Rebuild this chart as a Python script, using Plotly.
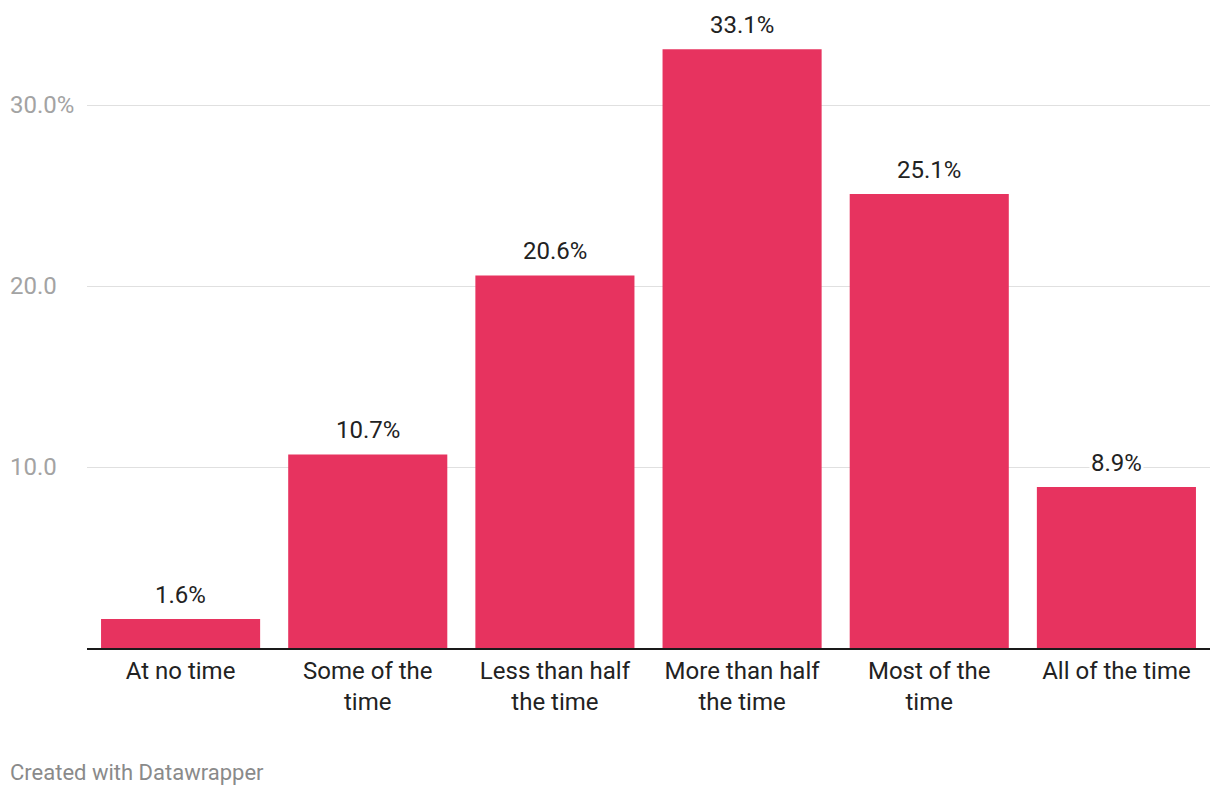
import plotly.graph_objects as go

categories = ["At no time", "Some of the<br>time", "Less than half<br>the time",
              "More than half<br>the time", "Most of the<br>time", "All of the time"]
values = [1.6, 10.7, 20.6, 33.1, 25.1, 8.9]
tick_vals = [10, 20, 30]
tick_text = ["10.0", "20.0", "30.0%"]

FONT = "Roboto, 'Noto Sans', sans-serif"
BAR = "#e7335f"

# page body has an 8px margin; sizes below are in figure pixels
W, H = 1220, 796
L, R, T, B = 79, 18, 25, 156
pw = W - L - R
ph = H - T - B

fig = go.Figure()
fig.add_trace(go.Bar(
    x=categories, y=values, marker=dict(color=BAR, line=dict(width=0)),
    hoverinfo="skip",
))

for c, v in zip(categories, values):
    fig.add_annotation(x=c, y=v, xref="x", yref="y", text=f"{v:.1f}%",
                       showarrow=False, yanchor="bottom", yshift=8,
                       bgcolor="white", borderpad=1,
                       font=dict(family=FONT, size=24, color="#222"))

for tv, tt in zip(tick_vals, tick_text):
    fig.add_annotation(x=(0 - L) / pw, y=tv, xref="paper", yref="y", text=tt,
                       showarrow=False, xanchor="left", yanchor="middle",
                       font=dict(family=FONT, size=24, color="#a3a3a3"))

fig.add_annotation(x=(0 - L) / pw, y=-(764 - (H - B)) / ph, xref="paper", yref="paper",
                   text="Created with Datawrapper", showarrow=False,
                   xanchor="left", yanchor="middle",
                   font=dict(family=FONT, size=22, color="#8a8a8a"))

fig.update_layout(
    width=W, height=H,
    margin=dict(l=L, r=R, t=T, b=B),
    plot_bgcolor="white", paper_bgcolor="white",
    bargap=0.15, showlegend=False,
    font=dict(family=FONT),
    xaxis=dict(range=[-0.5, 5.5], showline=True, linecolor="#1a1a1a", linewidth=2,
               ticks="", tickfont=dict(family=FONT, size=24, color="#222"),
               showgrid=False, fixedrange=True),
    yaxis=dict(range=[0, 34], tickvals=tick_vals, showticklabels=False,
               showgrid=True, gridcolor="#e0e0e0", gridwidth=1, zeroline=False,
               fixedrange=True),
)

fig.write_html("out.html")
